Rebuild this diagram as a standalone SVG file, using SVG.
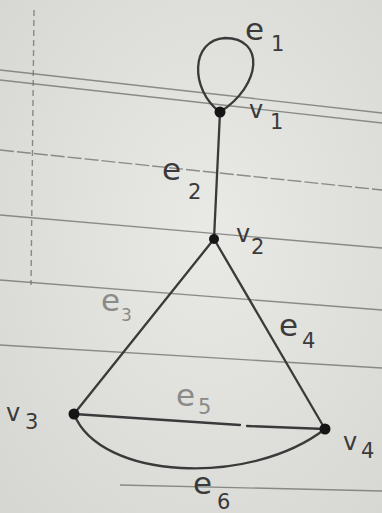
<svg xmlns="http://www.w3.org/2000/svg" width="382" height="513" viewBox="0 0 382 513">
  <defs>
    <radialGradient id="paper" cx="55%" cy="45%" r="75%">
      <stop offset="0" stop-color="#e9e9e6"/>
      <stop offset="1" stop-color="#d6d6d2"/>
    </radialGradient>
  </defs>
  <style>
    .rule { stroke: #6c6c6a; stroke-width: 1.4; fill: none; opacity: 0.75; }
    .edge { stroke: #3a3a3a; stroke-width: 2.3; fill: none; stroke-linecap: round; }
    .node { fill: #151515; }
    .lbl { font-family: "DejaVu Sans", "Liberation Sans", sans-serif; fill: #3a3a3a; }
    .big { font-size: 31px; }
    .sub { font-size: 21px; }
    .faint { fill: #8a8a88; }
  </style>
  <g id="paper-bg">
    <rect width="382" height="513" fill="url(#paper)"/>
    <path class="rule" d="M0,70 L382,113"/>
    <path class="rule" d="M0,80 L382,123"/>
    <path class="rule" d="M0,150 L382,190" stroke-dasharray="14 3"/>
    <path class="rule" d="M0,215 L382,248"/>
    <path class="rule" d="M0,280 L382,310"/>
    <path class="rule" d="M0,345 L382,368"/>
    <path class="rule" d="M120,485 L382,491" opacity="0.5"/>
    <path class="rule" d="M34,10 L31,285" stroke-dasharray="6 4" opacity="0.5"/>
  </g>
  <g id="connectors">
    <path id="e1" class="edge" d="M220,112 C190,90 190,40 225,38 C265,38 262,85 220,112"/>
    <path id="e2" class="edge" d="M220,112 L214,239"/>
    <path id="e3" class="edge" d="M214,239 L74,414"/>
    <path id="e4" class="edge" d="M214,239 L325,429"/>
    <path id="e5" class="edge" d="M74,414 L240,425 M247,426 L325,429" stroke-width="3"/>
    <path id="e6" class="edge" d="M74,414 C100,480 250,487 325,429"/>
  </g>
  <g id="v1"><circle class="node" cx="220" cy="112" r="5.5"/>
    <text class="lbl" x="249" y="118" font-size="24">v</text><text class="lbl sub" x="270" y="129">1</text></g>
  <g id="v2"><circle class="node" cx="214" cy="239" r="5"/>
    <text class="lbl" x="236" y="242" font-size="24">v</text><text class="lbl sub" x="251" y="254">2</text></g>
  <g id="v3"><circle class="node" cx="74" cy="414" r="5.5"/>
    <text class="lbl" x="6" y="421" font-size="24">v</text><text class="lbl sub" x="25" y="429">3</text></g>
  <g id="v4"><circle class="node" cx="325" cy="429" r="5.5"/>
    <text class="lbl" x="343" y="450" font-size="24">v</text><text class="lbl sub" x="361" y="458">4</text></g>
  <g id="l-e1"><text class="lbl big" x="245" y="40">e</text><text class="lbl sub" x="271" y="51">1</text></g>
  <g id="l-e2"><text class="lbl big" x="162" y="180">e</text><text class="lbl sub" x="188" y="199">2</text></g>
  <g id="l-e3"><text class="lbl big faint" x="101" y="311">e</text><text class="lbl faint" font-size="17" x="121" y="321">3</text></g>
  <g id="l-e4"><text class="lbl big" x="279" y="336">e</text><text class="lbl sub" x="302" y="348">4</text></g>
  <g id="l-e5"><text class="lbl big faint" x="176" y="406">e</text><text class="lbl sub faint" x="198" y="414">5</text></g>
  <g id="l-e6"><text class="lbl big" x="193" y="494">e</text><text class="lbl sub" x="217" y="509">6</text></g>
</svg>
